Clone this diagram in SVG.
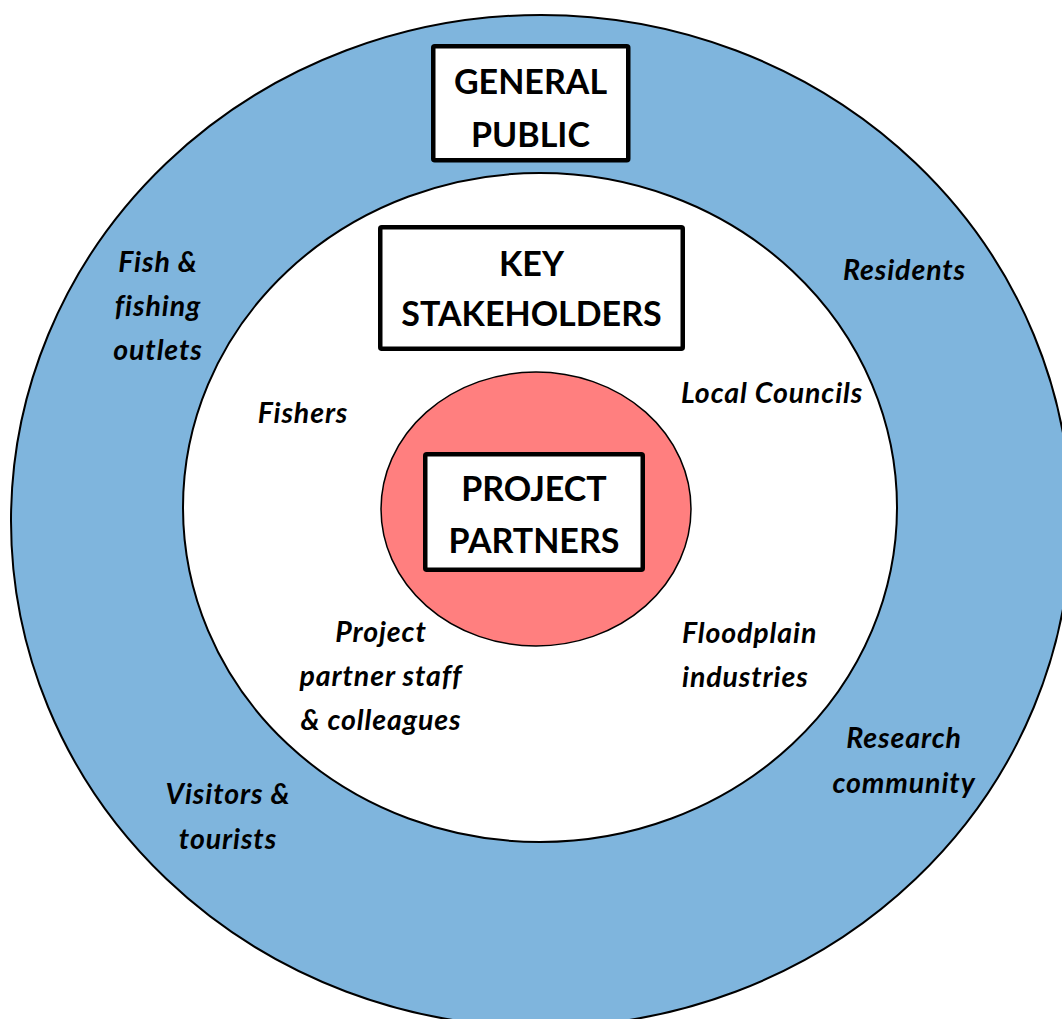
<svg xmlns="http://www.w3.org/2000/svg" width="1062" height="1019" viewBox="0 0 1062 1019">
  <style>
    .ring { stroke: #000; stroke-width: 2; }
    .box { fill: #fff; stroke: #000; stroke-width: 4.5; }
    .title { font-family: Lato, "Open Sans", "Liberation Sans", sans-serif; font-weight: bold; font-size: 34px; fill: #000; text-anchor: middle; }
    .label { font-family: Lato, "Open Sans", "Liberation Sans", sans-serif; font-weight: bold; font-style: italic; font-size: 28.5px; letter-spacing: 0.9px; fill: #000; }
    .mid { text-anchor: middle; }
  </style>
  <rect width="1062" height="1019" fill="#fff"/>

  <!-- concentric stakeholder rings -->
  <g id="rings">
    <ellipse id="ring-outer" class="ring" cx="541" cy="521" rx="530" ry="506" fill="#7fb5dd"/>
    <ellipse id="ring-middle" class="ring" cx="540" cy="507.5" rx="357" ry="334.5" fill="#fff"/>
    <ellipse id="ring-inner" cx="536" cy="509" rx="155" ry="137" fill="#ff7f7f" stroke="#000" stroke-width="1.5"/>
  </g>

  <!-- ring headings -->
  <g id="general-public">
    <rect class="box" x="433.25" y="46.25" width="195" height="114" rx="1.5"/>
    <text class="title" x="530.5" y="94">GENERAL</text>
    <text class="title" x="530.5" y="147">PUBLIC</text>
  </g>
  <g id="key-stakeholders">
    <rect class="box" x="380.25" y="227.25" width="302.5" height="121.5" rx="1.5"/>
    <text class="title" x="531.5" y="276">KEY</text>
    <text class="title" x="531.5" y="326">STAKEHOLDERS</text>
  </g>
  <g id="project-partners">
    <rect class="box" x="425.25" y="454.25" width="217.5" height="115.5" rx="1.5"/>
    <text class="title" x="534" y="501">PROJECT</text>
    <text class="title" x="534" y="553">PARTNERS</text>
  </g>

  <!-- outer ring members -->
  <g id="fish-outlets">
    <text class="label mid" x="158" y="272">Fish &amp;</text>
    <text class="label mid" x="158" y="316">fishing</text>
    <text class="label mid" x="158" y="360">outlets</text>
  </g>
  <g id="residents">
    <text class="label mid" x="904.5" y="280">Residents</text>
  </g>
  <g id="research-community">
    <text class="label mid" x="904" y="748">Research</text>
    <text class="label mid" x="904" y="793">community</text>
  </g>
  <g id="visitors-tourists">
    <text class="label mid" x="228" y="804">Visitors &amp;</text>
    <text class="label mid" x="228" y="849">tourists</text>
  </g>

  <!-- middle ring members -->
  <g id="fishers">
    <text class="label mid" x="303" y="423">Fishers</text>
  </g>
  <g id="local-councils">
    <text class="label" x="681" y="403">Local Councils</text>
  </g>
  <g id="floodplain-industries">
    <text class="label" x="682" y="643">Floodplain</text>
    <text class="label" x="682" y="687">industries</text>
  </g>
  <g id="partner-staff">
    <text class="label mid" x="381" y="642">Project</text>
    <text class="label mid" x="381" y="686">partner staff</text>
    <text class="label mid" x="381" y="730">&amp; colleagues</text>
  </g>

  <g id="connectors"/>
</svg>
